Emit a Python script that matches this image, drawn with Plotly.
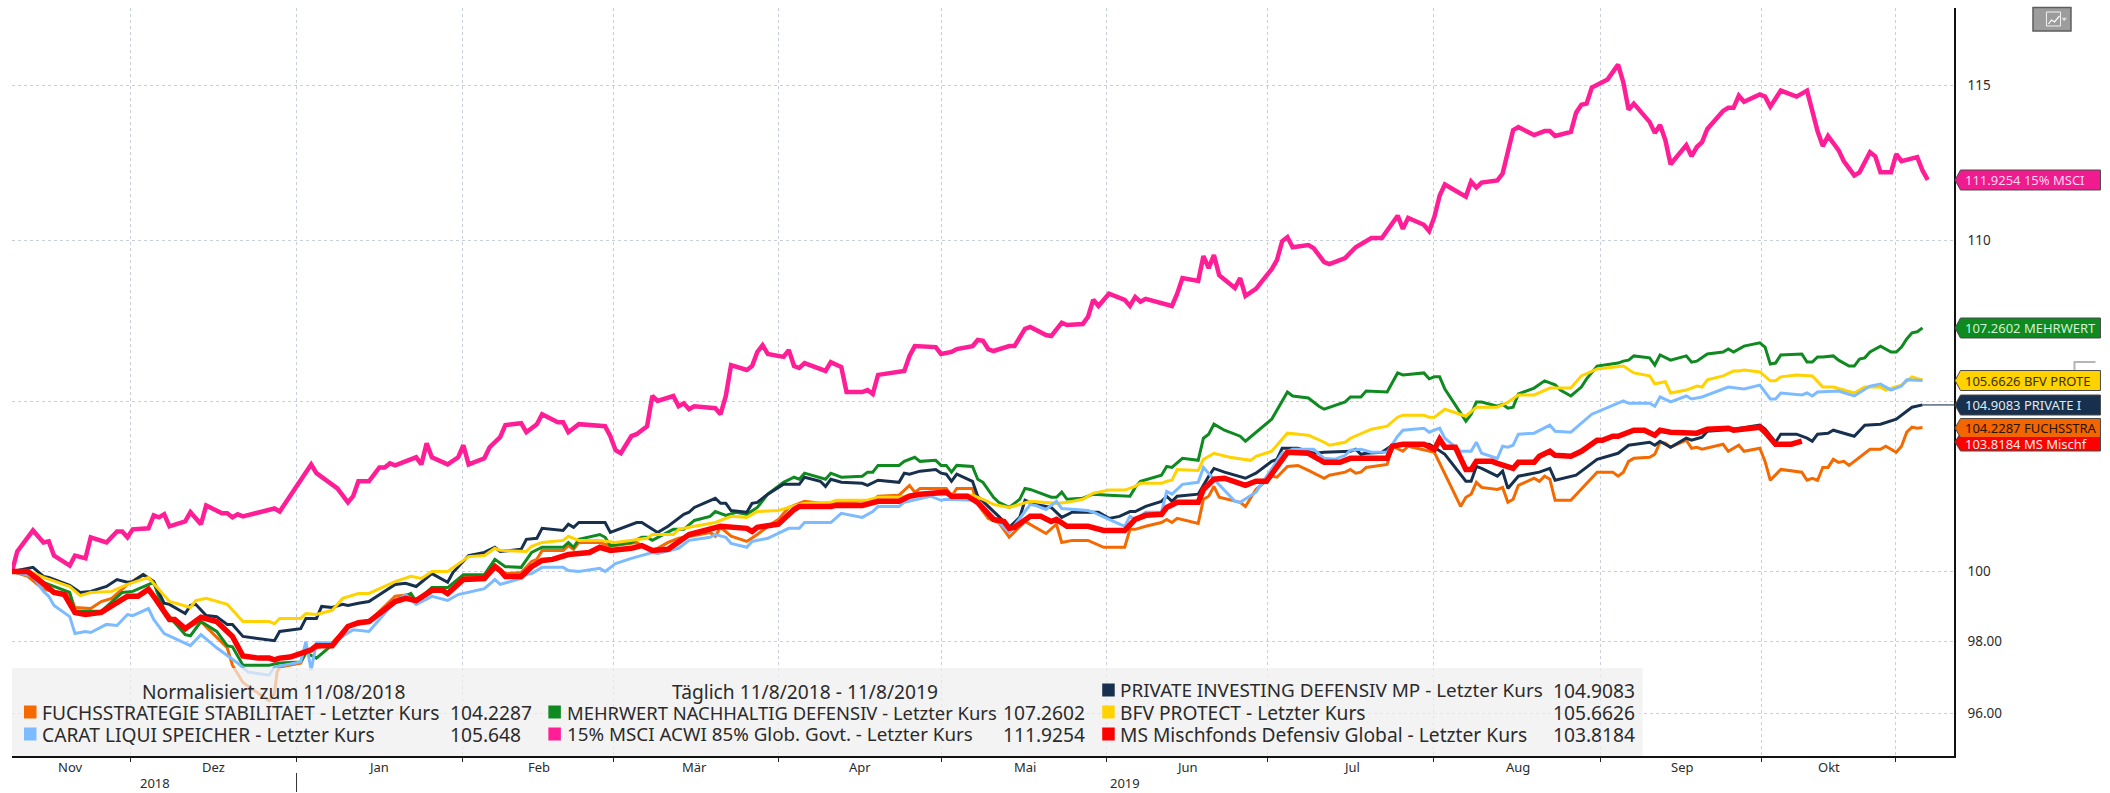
import plotly.graph_objects as go

# Values: (calendar day since 11/08/2018, normalised level)
fuchs = [(0,100.00),(3,99.86),(6,99.49),(11,99.34),(12,98.97),(15,98.94),(17,99.14),(19,99.23),(22,99.63),(25,99.91),(27,99.69),(29,98.91),(31,98.54),(33,98.40),(36,98.57),(41,97.83),(42,97.34),(44,96.86),(47,96.55),(49,96.35),(50,96.55),(50.5,97.15),(51,97.29),(55,97.40),(56,97.69),(57,97.77),(61,97.97),(64,98.43),(68,98.57),(73,99.29),(76,99.34),(77,99.11),(80,99.49),(83,99.40),(86,99.86),(90,99.86),(92,100.20),(94,99.94),(97,99.97),(99,100.29),(100,100.35),(101,100.61),(105,100.61),(106,100.75),(107,100.64),(108,100.84),(112,100.84),(114,100.73),(119,100.84),(122,100.58),(125,100.84),(127,100.96),(131,101.07),(133,101.13),(134,101.02),(135,101.28),(137,101.02),(140,100.87),(142,101.07),(144,101.31),(146,101.51),(148,101.86),(151,102.04),(156,101.95),(158,102.01),(164,102.07),(165,102.19),(169,102.22),(171,102.51),(172,102.31),(173,102.42),(178,102.42),(179,102.19),(180,102.42),(183,102.42),(184,101.95),(186,101.54),(188,101.42),(190,100.99),(193,101.45),(197,101.10),(199,101.37),(200,100.84),(202,100.90),(205,100.90),(208,100.70),(212,100.70),(213,101.22),(214,101.22),(216,101.31),(219,101.42),(220,101.51),(221,101.42),(222,101.54),(226,101.39),(227,102.10),(228,102.19),(229,102.48),(230,102.16),(234,102.01),(235,101.89),(237,102.39),(240,102.78),(241,102.75),(243,103.07),(245,103.10),(247,102.95),(249,102.78),(250,102.72),(251,102.81),(254,102.90),(255,102.98),(256,102.87),(257,102.90),(258,103.04),(262,103.13),(263,103.67),(265,103.52),(266,103.67),(271,103.49),(273,102.84),(276,101.89),(277,102.16),(278,102.25),(279,102.60),(280,102.45),(283,102.39),(284,102.45),(285,102.01),(286,102.10),(287,102.51),(290,102.72),(291,102.63),(292,102.78),(293,102.69),(294,102.07),(297,102.07),(299,102.39),(302,102.90),(305,102.90),(306,102.78),(307,102.90),(308,103.22),(309,103.31),(312,103.34),(313,103.43),(314,103.79),(315,103.76),(316,103.64),(319,103.85),(320,103.61),(321,103.64),(322,103.58),(326,103.73),(327,103.52),(329,103.70),(330,103.52),(333,103.61),(334,103.22),(335,102.66),(337,102.98),(341,102.90),(342,102.66),(343,102.72),(344,102.66),(345,103.04),(346,103.04),(347,103.28),(348,103.19),(349,103.22),(350,103.10),(354,103.58),(356,103.58),(357,103.67),(359,103.49),(360,103.67),(361,104.09),(362,104.24),(363,104.21),(364,104.23)]

carat = [(0,100.00),(4,99.86),(6,99.43),(7,99.29),(8,99.03),(11,98.71),(12,98.23),(14,98.29),(15,98.26),(18,98.49),(20,98.46),(22,98.77),(23,98.74),(26,98.94),(27,98.63),(29,98.23),(34,97.89),(36,98.20),(39,97.83),(43,97.40),(45,97.15),(49,97.06),(50,97.29),(55,97.43),(56,98.00),(57,97.20),(58,97.97),(61,97.97),(65,98.34),(68,98.29),(73,99.14),(75,99.34),(77,99.06),(80,99.29),(83,99.17),(85,99.34),(90,99.51),(92,99.77),(93,99.63),(97,99.80),(98,99.91),(99,99.94),(101,100.12),(105,100.12),(106,100.03),(108,100.00),(112,100.09),(113,100.00),(115,100.23),(118,100.38),(122,100.55),(123,100.52),(127,100.67),(129,100.90),(133,100.99),(134,101.07),(136,100.99),(137,100.81),(140,100.70),(141,100.87),(144,100.96),(148,101.25),(150,101.25),(151,101.42),(156,101.42),(158,101.69),(162,101.57),(164,101.74),(165,101.89),(169,101.89),(170,102.01),(175,102.19),(177,102.07),(178,102.10),(183,102.07),(187,101.57),(190,101.13),(194,101.95),(195,101.92),(197,101.80),(199,102.04),(200,101.83),(205,101.77),(206,101.72),(209,101.51),(212,101.31),(213,101.60),(214,101.51),(216,101.72),(219,101.72),(220,102.33),(221,102.25),(223,102.54),(226,102.60),(227,103.04),(229,102.69),(233,102.04),(234,102.01),(237,102.31),(239,102.78),(242,103.46),(244,103.58),(248,103.58),(250,103.31),(252,103.28),(254,103.40),(255,103.55),(257,103.58),(259,103.49),(262,103.49),(264,103.97),(265,104.15),(269,104.21),(270,104.09),(272,104.21),(273,103.91),(276,103.52),(278,103.52),(279,103.79),(280,103.46),(283,103.31),(284,103.67),(285,103.64),(286,103.70),(287,104.03),(290,104.06),(293,104.30),(294,104.12),(297,104.09),(301,104.63),(304,104.84),(307,105.03),(308,104.96),(312,104.96),(313,104.87),(314,105.15),(316,105.00),(319,105.18),(320,105.09),(322,105.15),(327,105.45),(330,105.39),(333,105.51),(335,105.09),(336,105.09),(337,105.27),(341,105.21),(342,105.27),(343,105.18),(344,105.30),(348,105.33),(351,105.18),(354,105.48),(356,105.54),(358,105.36),(360,105.48),(361,105.67),(364,105.65)]

mehrwert = [(0,100.00),(4,99.91),(6,99.69),(11,99.40),(12,98.86),(14,98.86),(17,98.86),(21,99.40),(23,99.43),(27,99.69),(29,98.86),(31,98.54),(33,98.20),(34,98.17),(36,98.57),(39,98.29),(41,97.89),(42,97.86),(44,97.34),(49,97.34),(51,97.40),(55,97.43),(56,97.69),(58,97.54),(61,97.91),(64,98.43),(68,98.57),(73,99.17),(76,99.37),(77,99.14),(80,99.54),(83,99.54),(86,99.91),(90,99.91),(92,100.35),(94,100.14),(97,100.12),(99,100.55),(101,100.70),(105,100.70),(106,100.84),(107,100.70),(108,100.93),(112,101.07),(113,100.99),(114,100.75),(118,100.84),(120,100.99),(121,100.99),(122,100.90),(126,101.22),(128,101.22),(130,101.48),(133,101.60),(134,101.74),(136,101.63),(138,101.72),(140,101.66),(142,101.86),(144,102.25),(147,102.60),(149,102.75),(150,102.69),(151,102.87),(155,102.69),(156,102.87),(158,102.75),(162,102.78),(163,102.90),(164,102.90),(165,103.10),(169,103.10),(170,103.22),(172,103.34),(173,103.22),(176,103.25),(177,103.10),(178,103.10),(179,102.90),(180,103.10),(183,103.07),(184,102.69),(185,102.60),(187,102.16),(188,102.01),(190,101.86),(192,102.10),(193,102.42),(194,102.39),(198,102.16),(199,102.16),(200,102.31),(201,102.10),(204,102.13),(206,102.25),(209,102.22),(213,102.19),(214,102.45),(215,102.63),(219,102.81),(220,103.07),(221,103.04),(223,103.31),(226,103.25),(227,103.91),(228,104.03),(229,104.33),(231,104.15),(234,103.97),(235,103.82),(240,104.48),(243,105.30),(244,105.18),(247,105.12),(249,104.87),(250,104.78),(254,105.00),(255,105.15),(257,105.15),(258,105.33),(262,105.30),(264,105.88),(265,105.82),(269,105.88),(270,105.70),(271,105.76),(272,105.76),(273,105.39),(277,104.42),(278,104.63),(279,105.00),(280,105.00),(283,104.87),(284,104.93),(285,104.81),(286,104.84),(287,105.24),(290,105.42),(292,105.64),(294,105.52),(295,105.36),(297,105.18),(299,105.45),(300,105.70),(302,106.09),(306,106.18),(307,106.24),(308,106.27),(309,106.40),(312,106.34),(313,106.12),(314,106.43),(316,106.27),(319,106.40),(320,106.21),(321,106.24),(323,106.46),(326,106.52),(327,106.61),(328,106.52),(330,106.70),(333,106.80),(334,106.67),(335,106.15),(336,106.18),(337,106.43),(341,106.46),(342,106.21),(343,106.21),(344,106.37),(345,106.37),(347,106.40),(348,106.27),(350,106.09),(351,106.09),(352,106.30),(353,106.34),(354,106.52),(356,106.70),(358,106.52),(359,106.52),(360,106.67),(361,106.92),(362,107.11),(363,107.14),(364,107.26)]

msci = [(0,100.00),(1,100.58),(4,101.19),(6,100.84),(7,100.87),(8,100.46),(11,100.17),(12,100.46),(14,100.38),(15,100.99),(18,100.84),(20,101.16),(21,101.16),(22,100.99),(23,101.22),(26,101.25),(27,101.63),(28,101.57),(29,101.66),(30,101.31),(33,101.45),(34,101.72),(36,101.37),(37,101.92),(40,101.69),(41,101.69),(42,101.57),(43,101.66),(44,101.60),(50,101.83),(51,101.74),(57,103.13),(58,102.87),(62,102.42),(64,102.01),(65,102.19),(66,102.63),(68,102.63),(70,103.04),(71,103.04),(72,103.16),(73,103.10),(77,103.34),(78,103.13),(79,103.76),(80,103.34),(83,103.13),(85,103.34),(86,103.70),(87,103.13),(90,103.31),(91,103.64),(93,103.94),(94,104.30),(97,104.36),(98,104.09),(100,104.33),(101,104.63),(104,104.39),(105,104.39),(106,104.09),(108,104.33),(113,104.27),(114,103.97),(115,103.55),(116,103.46),(118,103.97),(119,104.03),(121,104.27),(122,105.18),(123,105.03),(126,105.18),(127,104.87),(128,104.96),(129,104.78),(130,104.87),(134,104.81),(135,104.63),(136,105.18),(137,106.12),(140,105.97),(141,106.09),(142,106.52),(143,106.73),(144,106.46),(147,106.37),(148,106.58),(149,106.09),(150,106.03),(151,106.18),(155,105.94),(156,106.21),(158,106.06),(159,105.30),(162,105.30),(163,105.36),(164,105.24),(165,105.82),(170,105.94),(171,106.40),(172,106.70),(176,106.67),(177,106.46),(179,106.52),(180,106.61),(183,106.70),(184,106.89),(185,106.86),(186,106.61),(187,106.55),(190,106.70),(191,106.70),(193,107.23),(194,107.29),(197,107.04),(198,107.01),(200,107.42),(201,107.35),(204,107.38),(205,107.60),(206,108.13),(207,107.94),(209,108.32),(212,108.13),(213,107.94),(214,108.22),(215,108.07),(216,108.16),(221,107.94),(222,108.32),(223,108.81),(226,108.72),(227,109.50),(228,109.12),(229,109.53),(230,108.90),(233,108.50),(234,108.81),(235,108.25),(237,108.47),(240,109.09),(241,109.37),(242,109.97),(243,110.10),(244,109.78),(247,109.85),(248,109.75),(250,109.31),(251,109.25),(254,109.44),(256,109.78),(259,110.07),(261,110.07),(263,110.52),(264,110.78),(265,110.36),(266,110.71),(269,110.49),(270,110.29),(271,110.74),(272,111.42),(273,111.78),(277,111.39),(278,111.87),(279,111.68),(280,111.84),(283,111.91),(284,112.13),(285,112.89),(286,113.54),(287,113.64),(290,113.38),(292,113.51),(293,113.51),(294,113.35),(297,113.48),(298,114.11),(299,114.37),(300,114.41),(301,114.94),(304,115.21),(306,115.70),(307,115.11),(308,114.21),(309,114.41),(312,113.81),(313,113.45),(314,113.71),(315,113.22),(316,112.43),(319,113.05),(320,112.69),(321,112.99),(322,113.15),(323,113.58),(326,114.17),(327,114.27),(328,114.27),(329,114.67),(330,114.47),(333,114.71),(334,114.64),(335,114.31),(337,114.84),(340,114.64),(342,114.84),(343,114.17),(344,113.51),(345,113.02),(346,113.35),(348,112.89),(349,112.53),(351,112.07),(352,112.17),(354,112.82),(355,112.69),(356,112.17),(358,112.17),(359,112.76),(360,112.53),(363,112.66),(364,112.23),(365,111.93)]

private = [(0,100.00),(4,100.12),(6,99.86),(7,99.83),(11,99.60),(13,99.40),(15,99.43),(18,99.57),(20,99.77),(22,99.69),(23,99.71),(25,99.91),(27,99.71),(29,99.09),(30,99.06),(33,98.80),(34,99.03),(35,99.06),(37,98.74),(39,98.71),(41,98.49),(42,98.49),(44,98.15),(50,98.03),(51,98.29),(55,98.37),(56,98.66),(58,98.66),(59,99.00),(61,98.97),(63,99.06),(64,99.03),(66,99.09),(68,99.14),(73,99.63),(75,99.66),(77,99.57),(80,99.94),(83,99.69),(84,99.97),(87,100.46),(90,100.55),(92,100.70),(93,100.58),(97,100.64),(98,100.93),(100,100.96),(101,101.25),(105,101.19),(106,101.37),(107,101.28),(108,101.42),(113,101.42),(114,101.13),(119,101.42),(120,101.42),(123,101.13),(125,101.31),(128,101.66),(129,101.72),(130,101.86),(134,102.13),(135,101.98),(136,101.98),(137,101.77),(140,101.72),(141,101.98),(142,102.01),(144,102.25),(147,102.54),(150,102.54),(151,102.75),(154,102.63),(155,102.48),(156,102.69),(158,102.60),(162,102.57),(163,102.51),(165,102.66),(169,102.60),(170,102.87),(171,102.84),(173,102.93),(176,102.98),(177,102.87),(178,102.84),(179,102.63),(180,102.84),(183,102.63),(184,102.19),(186,101.89),(188,101.60),(190,101.28),(192,101.57),(193,102.07),(195,101.95),(198,101.86),(200,101.57),(202,101.72),(207,101.72),(209,101.54),(211,101.60),(213,101.74),(214,101.74),(216,101.89),(219,102.04),(220,102.19),(221,102.04),(222,102.19),(226,102.25),(228,102.78),(229,103.01),(231,102.90),(235,102.72),(237,102.87),(240,103.22),(241,103.28),(242,103.61),(245,103.61),(248,103.46),(250,103.49),(255,103.52),(256,103.58),(257,103.43),(258,103.46),(261,103.49),(263,103.70),(270,103.73),(271,103.64),(273,103.43),(277,102.63),(278,102.63),(279,103.07),(280,103.01),(283,102.78),(284,102.93),(285,102.42),(287,102.78),(291,102.90),(293,103.01),(294,102.66),(298,102.81),(302,103.28),(306,103.46),(308,103.70),(312,103.79),(313,103.70),(314,103.82),(316,103.64),(319,103.91),(320,103.85),(322,103.94),(323,104.12),(328,104.18),(333,104.30),(334,104.18),(336,103.79),(337,104.03),(340,104.03),(342,103.91),(343,103.82),(344,104.03),(346,104.06),(347,104.15),(351,103.97),(353,104.30),(356,104.33),(359,104.48),(362,104.84),(364,104.91)]

bfv = [(0,100.00),(3,100.03),(6,99.83),(11,99.57),(13,99.31),(15,99.40),(19,99.43),(22,99.63),(26,99.83),(30,99.14),(34,98.97),(35,99.17),(37,99.23),(41,99.06),(44,98.57),(49,98.57),(50,98.51),(51,98.66),(55,98.66),(56,98.80),(58,98.77),(61,98.89),(63,99.23),(66,99.37),(68,99.37),(73,99.71),(76,99.86),(78,99.80),(80,100.00),(83,100.00),(87,100.43),(90,100.46),(92,100.67),(93,100.61),(98,100.58),(99,100.73),(101,100.84),(105,100.90),(106,101.02),(108,100.90),(112,100.90),(115,100.84),(121,100.96),(122,101.07),(126,101.07),(127,101.22),(130,101.31),(134,101.42),(137,101.60),(140,101.57),(142,101.74),(146,101.77),(150,101.95),(151,101.98),(156,102.01),(157,102.07),(163,102.07),(165,102.16),(169,102.16),(171,102.22),(176,102.25),(183,102.22),(185,102.10),(187,101.95),(190,101.86),(194,102.04),(199,101.98),(201,102.01),(204,102.10),(206,102.28),(207,102.31),(209,102.37),(212,102.37),(214,102.48),(215,102.57),(219,102.57),(220,102.63),(221,102.66),(222,102.98),(226,102.95),(227,103.28),(229,103.46),(232,103.34),(236,103.25),(237,103.37),(240,103.52),(243,104.06),(247,104.00),(250,103.79),(251,103.70),(254,103.79),(255,103.91),(259,104.18),(262,104.27),(264,104.54),(265,104.60),(269,104.60),(270,104.54),(271,104.54),(273,104.78),(277,104.57),(279,104.84),(283,104.84),(285,104.99),(287,105.21),(290,105.21),(293,105.42),(297,105.42),(299,105.79),(302,106.00),(307,106.09),(309,105.88),(312,105.79),(313,105.55),(315,105.61),(316,105.27),(319,105.36),(321,105.48),(322,105.45),(323,105.67),(326,105.79),(328,105.94),(329,105.94),(330,105.97),(333,105.91),(335,105.64),(336,105.64),(337,105.76),(340,105.82),(342,105.79),(343,105.79),(345,105.45),(347,105.45),(351,105.27),(353,105.45),(356,105.45),(357,105.36),(360,105.51),(362,105.76),(364,105.66)]

ms = [(0,100.00),(3,100.00),(5,99.77),(8,99.40),(10,99.34),(11,99.11),(12,98.83),(14,98.77),(17,98.83),(21,99.20),(22,99.29),(24,99.29),(26,99.49),(27,99.29),(29,98.83),(30,98.63),(31,98.63),(33,98.37),(36,98.69),(39,98.57),(42,98.15),(44,97.60),(47,97.54),(49,97.54),(50,97.49),(51,97.54),(53,97.57),(55,97.66),(56,97.69),(57,97.77),(58,97.89),(61,97.89),(64,98.43),(66,98.54),(68,98.57),(73,99.14),(75,99.23),(77,99.17),(80,99.46),(82,99.46),(83,99.37),(86,99.77),(90,99.80),(92,100.14),(93,100.03),(94,99.86),(97,99.86),(99,100.14),(101,100.32),(103,100.35),(106,100.49),(110,100.55),(112,100.70),(114,100.61),(118,100.67),(120,100.75),(122,100.61),(125,100.64),(129,101.07),(135,101.31),(140,101.25),(141,101.16),(142,101.28),(146,101.37),(149,101.80),(150,101.89),(156,101.89),(157,101.92),(162,101.92),(165,102.04),(169,102.04),(171,102.19),(173,102.25),(178,102.31),(179,102.19),(182,102.19),(184,102.01),(187,101.51),(189,101.45),(190,101.25),(191,101.28),(194,101.60),(196,101.60),(198,101.45),(199,101.51),(201,101.31),(205,101.31),(208,101.19),(212,101.19),(214,101.51),(216,101.63),(219,101.66),(220,101.86),(222,102.01),(226,102.01),(227,102.39),(229,102.69),(231,102.72),(235,102.51),(237,102.63),(239,102.63),(241,103.07),(243,103.49),(247,103.46),(249,103.25),(250,103.19),(253,103.19),(255,103.31),(262,103.31),(263,103.67),(265,103.73),(269,103.73),(271,103.58),(272,103.88),(273,103.64),(275,103.64),(277,102.98),(278,102.98),(279,103.22),(282,103.22),(283,103.16),(286,103.01),(287,103.19),(290,103.19),(291,103.37),(293,103.52),(294,103.40),(297,103.37),(299,103.52),(302,103.85),(303,103.85),(305,103.97),(306,103.97),(309,104.15),(311,104.15),(313,104.00),(314,104.15),(316,104.09),(321,104.06),(323,104.18),(327,104.21),(328,104.15),(333,104.24),(334,104.09),(336,103.73),(339,103.73),(341,103.82)]

month_edges = [22.67, 54.2, 85.9, 114.6, 146.1, 177.0, 208.6, 239.2, 270.9, 302.7, 333.3, 358.8]
y_ticks = [96, 98, 100, 105, 110, 115]
y_tick_text = ["96.00", "98.00", "100", "105", "110", "115"]
month_names = ["Nov", "Dez", "Jan", "Feb", "Mär", "Apr", "Mai", "Jun", "Jul", "Aug", "Sep", "Okt"]

W, H = 2110, 793
L, R, T, B = 12, 1954.5, 8, 756
FONT = "Noto Sans"
TEXT = "#2b2b2b"
LEG = 19.2


def fx(px):
    return (px - L) / (R - L)


def fy(py):
    return (B - py) / (B - T)


fig = go.Figure()

series = [
    ("FUCHSSTRATEGIE STABILITAET", fuchs, "#F56A00", 3),
    ("MEHRWERT NACHHALTIG DEFENSIV", mehrwert, "#0E8A20", 3),
    ("PRIVATE INVESTING DEFENSIV MP", private, "#17304E", 3),
    ("BFV PROTECT", bfv, "#FFD200", 3),
    ("CARAT LIQUI SPEICHER", carat, "#7CBBFF", 3),
    ("15% MSCI ACWI 85% Glob. Govt.", msci, "#FF1E96", 4.5),
    ("MS Mischfonds Defensiv Global", ms, "#FF0000", 5.5),
]
for name, pts, color, width in series:
    fig.add_trace(go.Scatter(
        x=[p[0] for p in pts], y=[p[1] for p in pts], mode="lines", name=name,
        line=dict(color=color, width=width, shape="linear"), showlegend=False,
    ))

# connector from the last PRIVATE value to its tag
fig.add_trace(go.Scatter(x=[364, 370], y=[private[-1][1], private[-1][1]], mode="lines",
                         line=dict(color="#5b6b7d", width=1.5), showlegend=False, hoverinfo="skip"))

# arrowheads on the value axis
fig.add_trace(go.Scatter(x=[371.1] * len(y_ticks), y=y_ticks, mode="markers", cliponaxis=False,
                         marker=dict(symbol="triangle-right", size=8, color="#111111"),
                         showlegend=False, hoverinfo="skip"))

shapes = []
annotations = []


def text(s, px, py, anchor="left", size=LEG, color=TEXT):
    annotations.append(dict(text=s, x=fx(px), y=fy(py), xref="paper", yref="paper", showarrow=False,
                            xanchor=anchor, yanchor="middle", borderpad=0,
                            font=dict(family=FONT, size=size, color=color)))


def rect(x0, y0, x1, y1, fill, line=None, opacity=1, lw=1):
    shapes.append(dict(type="rect", xref="paper", yref="paper", x0=fx(x0), x1=fx(x1), y0=fy(y0), y1=fy(y1),
                       fillcolor=fill, opacity=opacity, layer="above",
                       line=dict(color=line or "rgba(0,0,0,0)", width=lw if line else 0)))


def poly(points, fill="rgba(0,0,0,0)", line="#555555", lw=1, close=True):
    d = "M " + " L ".join(f"{fx(x):.6f},{fy(y):.6f}" for x, y in points) + (" Z" if close else "")
    shapes.append(dict(type="path", xref="paper", yref="paper", path=d, fillcolor=fill, layer="above",
                       line=dict(color=line, width=lw)))


# legend panel
rect(12, 668, 1643, 756, "#EFEFEF", opacity=0.72)
text("Normalisiert zum 11/08/2018", 141.5, 691)
text("Täglich 11/8/2018 - 11/8/2019", 671, 691)
legend_rows = [
    (24, 41.5, 449, 712, "#F56A00", "FUCHSSTRATEGIE STABILITAET - Letzter Kurs", "104.2287", 19.2),
    (24, 41.5, 449, 734, "#7CBBFF", "CARAT LIQUI SPEICHER - Letzter Kurs", "105.648", 19.2),
    (548.5, 566, 1002, 712, "#0E8A20", "MEHRWERT NACHHALTIG DEFENSIV - Letzter Kurs", "107.2602", 18.4),
    (548.5, 566, 1002, 734, "#FF1E96", "15% MSCI ACWI 85% Glob. Govt. - Letzter Kurs", "111.9254", 18.8),
    (1102.5, 1119, 1552, 690, "#17304E", "PRIVATE INVESTING DEFENSIV MP - Letzter Kurs", "104.9083", 18.9),
    (1102.5, 1119, 1552, 712, "#FFD200", "BFV PROTECT - Letzter Kurs", "105.6626", 19.2),
    (1102.5, 1119, 1552, 734, "#FF0000", "MS Mischfonds Defensiv Global - Letzter Kurs", "103.8184", 19.2),
]
for sw, tx, vx, y, col, label, val, size in legend_rows:
    rect(sw, y - 6.5, sw + 12.5, y + 6.5, col)
    text(label, tx, y, size=size)
    text(val, vx, y)

# month and year labels
month_px = [70, 213.6, 379, 539, 695, 860, 1025, 1187, 1352, 1518, 1682, 1829]
for m, px in zip(month_names, month_px):
    text(m, px, 767, anchor="center", size=13)
text("2018", 155, 783, anchor="center", size=13)
text("2019", 1125, 783, anchor="center", size=13)
poly([(296.6, 773), (296.6, 792)], line="#333333", lw=1, close=False)

# last-value tags (red first, the orange one overlaps it); (tag centre, half height, fill, text colour, text centre, label)
tags = [
    (180, 10, "#F01B8F", "#FFD6EC", 180, "111.9254 15% MSCI"),
    (328, 10, "#0E8A20", "#D2F2D6", 328, "107.2602 MEHRWERT"),
    (442, 9, "#FF0000", "#FFE8E8", 444.5, "103.8184 MS Mischf"),
    (380.5, 10, "#FFD200", "#3a3000", 380.5, "105.6626 BFV PROTE"),
    (405, 10, "#17304E", "#E2E8F0", 405, "104.9083 PRIVATE I"),
    (428, 9.5, "#F26500", "#2a1300", 427.5, "104.2287 FUCHSSTRA"),
]
# faint grey mark behind the tags
poly([(2096, 362), (2075, 362), (2075, 373)], line="#B5B5B5", lw=2, close=False)
for cy, h, fill, fg, ty, label in tags:
    poly([(1955.5, cy), (1961, cy - h), (2101, cy - h), (2101, cy + h), (1961, cy + h)],
         fill=fill, line="#4a4a4a", lw=1)
    text(label, 1965, ty, size=13, color=fg)

# chart-type button
rect(2033.5, 7.5, 2071.5, 31, "#9C9C9C", line="#5e5e5e", lw=1.5)
rect(2047, 12, 2061, 26, "rgba(0,0,0,0)", line="#F2F2F2", lw=1)
poly([(2049, 24), (2052, 20), (2055, 22), (2060, 16)], line="#FFFFFF", lw=1.2, close=False)
poly([(2062.5, 18), (2067, 18), (2064.7, 21)], fill="#DDDDDD", line="#DDDDDD", lw=0.5)

fig.update_layout(
    width=W, height=H,
    margin=dict(l=L, r=W - R, t=T, b=H - B),
    paper_bgcolor="white", plot_bgcolor="white",
    showlegend=False,
    shapes=shapes, annotations=annotations,
    font=dict(family=FONT, size=13, color=TEXT),
    xaxis=dict(
        type="linear", range=[0, 370], tickmode="array", tickvals=month_edges,
        showticklabels=False, ticks="outside", ticklen=4, tickcolor="#222222", tickwidth=1,
        showgrid=True, gridcolor="#C9CEDC", griddash="dot", gridwidth=1.2,
        showline=True, linecolor="#111111", linewidth=2, zeroline=False,
    ),
    yaxis=dict(
        type="log", side="right", range=[1.97695, 2.07041], tickmode="array",
        tickvals=y_ticks, ticktext=y_tick_text, ticks="outside", ticklen=9,
        tickcolor="rgba(0,0,0,0)", tickfont=dict(family=FONT, size=13.5, color=TEXT),
        showgrid=True, gridcolor="#C9CEDC", griddash="dot", gridwidth=1.2,
        showline=True, linecolor="#111111", linewidth=1.5, zeroline=False,
    ),
)

fig.write_html("out.html", config={"displayModeBar": False},
               post_script="document.body.style.margin='0';document.body.style.overflow='hidden';")
